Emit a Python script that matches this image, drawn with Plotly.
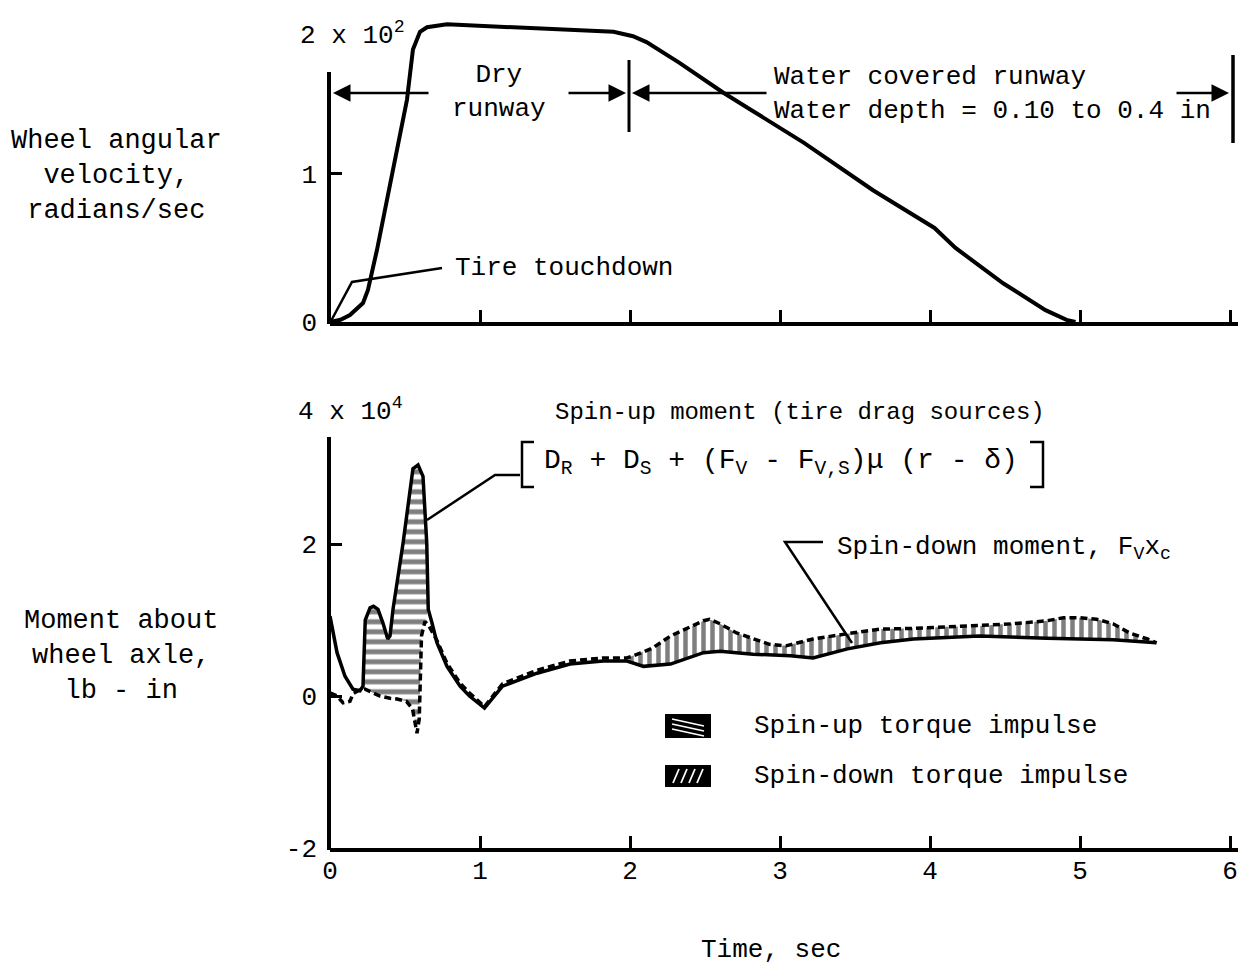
import numpy as np
import plotly.graph_objects as go

# ---------------- data ----------------
# Top chart: wheel angular velocity, units of 10^2 radians/sec
wheel_t = [0, 0.07, 0.133, 0.22, 0.253, 0.313, 0.513, 0.553, 0.60, 0.647, 0.78, 1.2, 1.6,
           1.89, 2.02, 2.11, 2.33, 2.47, 2.62, 2.81, 3.16, 3.62, 4.03, 4.17, 4.49, 4.77, 4.91, 4.97]
wheel_omega = [0, 0.015, 0.047, 0.128, 0.216, 0.486, 1.50, 1.84, 1.96, 1.99, 2.01, 1.99, 1.975,
               1.96, 1.93, 1.89, 1.75, 1.655, 1.55, 1.43, 1.21, 0.89, 0.635, 0.50, 0.26, 0.08, 0.014, 0]

# Bottom chart: moments about wheel axle, units of 10^4 lb-in
spinup_t = [0, 0.047, 0.10, 0.153, 0.20, 0.22, 0.235, 0.267, 0.29, 0.32, 0.353, 0.385, 0.40,
            0.42, 0.487, 0.553, 0.587, 0.62, 0.645, 0.655, 0.68, 0.713, 0.78, 0.867, 0.93, 1.03,
            1.15, 1.38, 1.6, 1.82, 1.98, 2.09, 2.27, 2.38, 2.49, 2.6, 2.82, 3.07, 3.22, 3.45,
            3.67, 3.89, 4.33, 4.78, 5.0, 5.22, 5.51]
spinup_m = [1.05, 0.57, 0.26, 0.09, 0.07, 0.13, 1.0, 1.16, 1.18, 1.14, 0.96, 0.75, 0.79,
            1.14, 2.01, 2.99, 3.04, 2.89, 2.01, 1.14, 0.96, 0.70, 0.39, 0.13, 0.0, -0.16,
            0.13, 0.30, 0.42, 0.46, 0.46, 0.39, 0.42, 0.49, 0.57, 0.59, 0.55, 0.53, 0.50, 0.62,
            0.70, 0.75, 0.79, 0.76, 0.75, 0.74, 0.70]

spindown_t = [0, 0.047, 0.087, 0.133, 0.153, 0.187, 0.233, 0.29, 0.333, 0.40, 0.447, 0.51,
              0.55, 0.565, 0.58, 0.595, 0.61, 0.633, 0.66, 0.713, 0.78, 0.867, 0.93, 1.03,
              1.15, 1.38, 1.6, 1.82, 1.98, 2.05, 2.15, 2.27, 2.38, 2.49, 2.53, 2.6, 2.71,
              2.82, 2.93, 3.04, 3.22, 3.45, 3.67, 3.89, 4.11, 4.33, 4.55, 4.78, 4.89, 5.0,
              5.11, 5.22, 5.33, 5.45, 5.51]
spindown_m = [0.04, 0.0, -0.09, -0.07, 0.03, 0.07, 0.09, 0.04, 0.0, -0.03, -0.04, -0.07,
              -0.17, -0.33, -0.49, -0.30, 0.79, 0.98, 0.92, 0.73, 0.43, 0.17, 0.04, -0.14,
              0.16, 0.34, 0.46, 0.50, 0.50, 0.55, 0.63, 0.79, 0.89, 0.99, 1.01, 0.95, 0.83,
              0.75, 0.68, 0.66, 0.75, 0.82, 0.88, 0.89, 0.91, 0.92, 0.95, 0.99, 1.03, 1.03,
              1.01, 0.95, 0.83, 0.75, 0.70]

x_ticks = [0, 1, 2, 3, 4, 5, 6]
x_ticktext = ["0", "1", "2", "3", "4", "5", "6"]
top_y_ticks = [0, 1]
top_y_ticktext = ["0", "1"]
bot_y_ticks = [-2, 0, 2]
bot_y_ticktext = ["-2", "0", "2"]

# impulse windows (time ranges of the hatched areas)
spinup_window_up = (0.22, 0.655)
spinup_window_dn = (0.23, 0.64)
spindown_window = (1.98, 5.51)

# ---------------- layout geometry ----------------
FONT = "Liberation Mono, Courier New, monospace"
W, H = 1241, 975
L, T, R, B = 330, 11, 3, 127
PW, PH = W - L - R, H - T - B          # 908 x 837
X_PER_SEC = 150.0
x_range = [0, PW / X_PER_SEC]


def px(x):   # page pixel -> paper
    return (x - L) / PW


def py(y):
    return (H - B - y) / PH


top_dom = [py(322), 1.0]
bot_dom = [0.0, py(376.8)]

fig = go.Figure()

up_t, up_m = np.array(spinup_t), np.array(spinup_m)
dn_t, dn_m = np.array(spindown_t), np.array(spindown_m)

# spin-up torque impulse (spin-up moment above spin-down moment)
mu = (up_t >= spinup_window_up[0]) & (up_t <= spinup_window_up[1])
md = (dn_t >= spinup_window_dn[0]) & (dn_t <= spinup_window_dn[1])
fig.add_trace(go.Scatter(
    x=list(up_t[mu]) + list(dn_t[md][::-1]),
    y=list(up_m[mu]) + list(dn_m[md][::-1]),
    fill="toself", mode="lines", line=dict(width=0, color="black"),
    fillcolor="white",
    fillpattern=dict(shape="-", fgcolor="black", bgcolor="white", size=10, solidity=0.5),
    xaxis="x", yaxis="y", showlegend=False, hoverinfo="skip"))

# spin-down torque impulse (spin-down moment above spin-up moment)
mu = (up_t >= spindown_window[0]) & (up_t <= spindown_window[1])
md = (dn_t >= spindown_window[0]) & (dn_t <= spindown_window[1])
fig.add_trace(go.Scatter(
    x=list(dn_t[md]) + list(up_t[mu][::-1]),
    y=list(dn_m[md]) + list(up_m[mu][::-1]),
    fill="toself", mode="lines", line=dict(width=0, color="black"),
    fillcolor="white",
    fillpattern=dict(shape="|", fgcolor="black", bgcolor="white", size=9, solidity=0.5),
    xaxis="x", yaxis="y", showlegend=False, hoverinfo="skip"))

# curves
fig.add_trace(go.Scatter(x=spinup_t, y=spinup_m, mode="lines",
                         line=dict(color="black", width=3.5), xaxis="x", yaxis="y",
                         name="Spin-up moment", showlegend=False))
fig.add_trace(go.Scatter(x=spindown_t, y=spindown_m, mode="lines",
                         line=dict(color="black", width=3.5, dash="7px,4px"), xaxis="x", yaxis="y",
                         name="Spin-down moment", showlegend=False))
fig.add_trace(go.Scatter(x=wheel_t, y=wheel_omega, mode="lines",
                         line=dict(color="black", width=4), xaxis="x2", yaxis="y2",
                         name="Wheel angular velocity", showlegend=False))

tickfont = dict(family=FONT, size=26, color="black")
common = dict(showgrid=False, zeroline=False, linecolor="black", tickcolor="black",
              tickfont=tickfont, ticks="inside", ticklen=12, tickwidth=3)

fig.update_layout(
    width=W, height=H, autosize=False,
    margin=dict(l=L, r=R, t=T, b=B, pad=0),
    plot_bgcolor="white", paper_bgcolor="white", showlegend=False,
    font=dict(family=FONT, color="black"),
    xaxis=dict(domain=[0, 1], range=x_range, anchor="y", showline=True, linewidth=4,
               tickvals=x_ticks, ticktext=x_ticktext, ticklabelstandoff=-4, **common),
    yaxis=dict(domain=bot_dom, range=[-2, 4.2], anchor="x", showline=False,
               tickvals=bot_y_ticks, ticktext=bot_y_ticktext, ticklabelstandoff=12, **common),
    xaxis2=dict(domain=[0, 1], range=x_range, anchor="y2", showline=True, linewidth=4,
                tickvals=x_ticks, showticklabels=False, **common),
    yaxis2=dict(domain=top_dom, range=[0, 2.1], anchor="x2", showline=False,
                tickvals=top_y_ticks, ticktext=top_y_ticktext, ticklabelstandoff=12, **common),
)

shapes = []


def line(x0, y0, x1, y1, w=3, color="black"):
    shapes.append(dict(type="line", xref="paper", yref="paper", x0=px(x0), y0=py(y0),
                       x1=px(x1), y1=py(y1), line=dict(color=color, width=w)))


def path(pts, w=2.5):
    d = "M " + " L ".join(f"{px(a):.5f},{py(b):.5f}" for a, b in pts)
    shapes.append(dict(type="path", xref="paper", yref="paper", path=d,
                       line=dict(color="black", width=w)))


# partial y-axis lines
line(329, 72, 329, 324, w=4)
line(329, 437, 329, 850, w=4)
# runway boundary bars
line(629, 60, 629, 132, w=3)
line(1233, 55, 1233, 143, w=3.5)
# leaders
path([(331, 321), (352, 282), (442, 268)], w=2.5)
path([(427, 520), (495, 475), (520, 475)], w=2.5)
path([(852, 643), (785, 542), (823, 542)], w=2.5)
# brackets
path([(534, 442), (522, 442), (522, 487), (534, 487)], w=2.5)
path([(1030, 442), (1043, 442), (1043, 487), (1030, 487)], w=2.5)
# legend keys
shapes.append(dict(type="rect", xref="paper", yref="paper", x0=px(665), x1=px(711),
                   y0=py(738), y1=py(714), fillcolor="black", line=dict(width=0)))
shapes.append(dict(type="rect", xref="paper", yref="paper", x0=px(665), x1=px(711),
                   y0=py(787), y1=py(765), fillcolor="black", line=dict(width=0)))
for k in range(3):
    line(672, 719 + 5 * k, 704, 726 + 5 * k, w=1.5, color="white")
for k in range(4):
    line(673 + 8 * k, 783, 679 + 8 * k, 769, w=1.8, color="white")

fig.update_layout(shapes=shapes)

anns = []


def text(t, x, y, xanchor="center", size=26, align="center"):
    anns.append(dict(text=t, x=px(x), y=py(y), xref="paper", yref="paper",
                     xanchor=xanchor, yanchor="middle", showarrow=False, align=align,
                     font=dict(family=FONT, size=size, color="black")))


def arrow(tip, tail):
    anns.append(dict(text="", x=px(tip[0]), y=py(tip[1]), xref="paper", yref="paper",
                     ax=tail[0] - tip[0], ay=tail[1] - tip[1], axref="pixel", ayref="pixel",
                     showarrow=True, arrowhead=2, arrowsize=1.4, arrowwidth=2.5,
                     arrowcolor="black", standoff=0, startstandoff=0))


text("2 x 10<sup>2</sup>", 298, 34, xanchor="left")
text("4 x 10<sup>4</sup>", 296, 410, xanchor="left")
text("Wheel angular<br>velocity,<br>radians/sec", 116, 176, size=27)
text("Moment about<br>wheel axle,<br>lb - in", 121, 656, size=27)
text("Time, sec", 771, 950)
text("Dry<br>runway", 499, 92)
text("Water covered runway<br>Water depth = 0.10 to 0.4 in", 772, 94, xanchor="left", align="left")
text("Tire touchdown", 453, 268, xanchor="left")
text("Spin-up moment (tire drag sources)", 800, 412, size=24)
text("D<sub>R</sub> + D<sub>S</sub> + (F<sub>V</sub> - F<sub>V,S</sub>)μ (r - δ)", 781, 462, size=28)
text("Spin-down moment, F<sub>V</sub>x<sub>c</sub>", 835, 548, xanchor="left")
text("Spin-up torque impulse", 752, 726, xanchor="left")
text("Spin-down torque impulse", 752, 776, xanchor="left")

arrow((333, 93), (430, 93))
arrow((626, 93), (567, 93))
arrow((632, 93), (768, 93))
arrow((1229, 93), (1175, 93))

fig.update_layout(annotations=anns)

fig.write_html("out.html", config={"displayModeBar": False},
               post_script="document.body.style.margin='0px';document.body.style.overflow='hidden';")
